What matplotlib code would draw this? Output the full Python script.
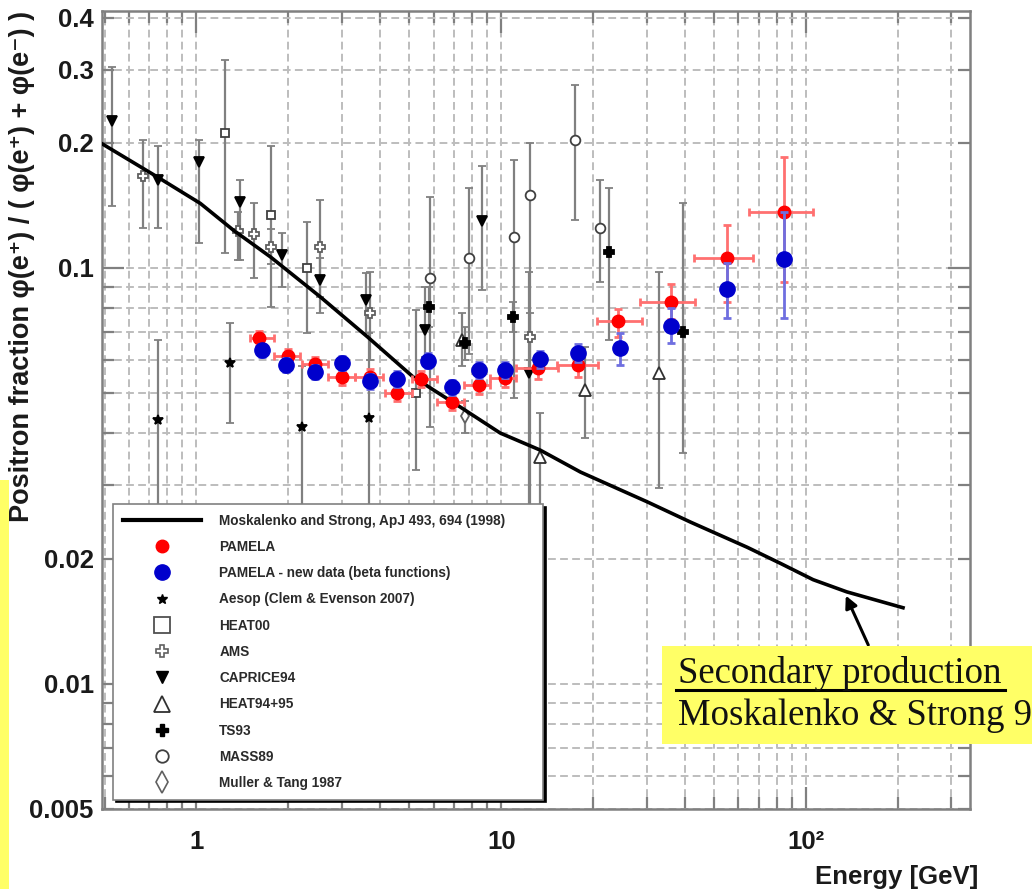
import matplotlib
matplotlib.use("Agg")
import matplotlib.pyplot as plt
import numpy as np
from matplotlib.lines import Line2D
from matplotlib.patches import Rectangle
from matplotlib.ticker import FixedLocator, FixedFormatter

plt.rcParams["font.family"] = ["Liberation Sans", "DejaVu Sans"]

# secondary production curve (Moskalenko & Strong 1998)
ms_e = [0.49, 0.745, 1.03, 1.32, 1.75, 2.55, 3.64, 5.14, 7.34, 9.92, 13.4,
        18.2, 30.1, 41.7, 64.1, 82.2, 105.5, 136, 208]
ms_f = [0.199, 0.1655, 0.143, 0.1234, 0.1063, 0.0852, 0.0683, 0.0547, 0.0463,
        0.0401, 0.0365, 0.0323, 0.0274, 0.0245, 0.0213, 0.0195, 0.0178,
        0.01664, 0.01524]

# PAMELA
pam_e = [1.60, 1.99, 2.44, 3.0, 3.70, 4.55, 5.47, 6.89, 8.43, 10.3, 13.2,
         17.8, 24.2, 36.1, 55.0, 84.9]
pam_elo = [1.50, 1.79, 2.22, 2.71, 3.32, 4.17, 5.1, 6.16, 7.53, 9.2, 11.2,
           15.2, 20.6, 28.5, 42.8, 65.2]
pam_ehi = [1.80, 2.19, 2.71, 3.32, 4.1, 5.1, 6.16, 7.53, 9.2, 11.2, 15.4,
           20.8, 28.9, 43.2, 67.1, 105.6]
pam_f = [0.0677, 0.0614, 0.0587, 0.0546, 0.0548, 0.0500, 0.0541, 0.0477,
         0.0524, 0.0545, 0.0574, 0.0585, 0.0744, 0.083, 0.1059, 0.136]
pam_flo = [0.0650, 0.0590, 0.0563, 0.0524, 0.0525, 0.0478, 0.0517, 0.0455,
           0.0498, 0.0516, 0.0540, 0.0548, 0.0684, 0.0755, 0.083, 0.0927]
pam_fhi = [0.0705, 0.0640, 0.0612, 0.0569, 0.0572, 0.0523, 0.0566, 0.0500,
           0.0551, 0.0575, 0.0610, 0.0624, 0.0796, 0.0915, 0.127, 0.1846]

# PAMELA - new data (beta functions)
new_e = [1.64, 1.97, 2.44, 3.0, 3.70, 4.55, 5.75, 6.89, 8.43, 10.3, 13.4,
         17.8, 24.5, 36.1, 55.0, 84.9]
new_f = [0.0635, 0.0585, 0.0563, 0.059, 0.0535, 0.0541, 0.0599, 0.0516,
         0.0569, 0.0569, 0.0603, 0.0626, 0.0641, 0.0725, 0.0889, 0.1049]
new_flo = [0.0612, 0.0563, 0.0541, 0.0567, 0.0513, 0.0518, 0.0574, 0.0494,
           0.0544, 0.0543, 0.0574, 0.0594, 0.0585, 0.066, 0.0757, 0.0757]
new_fhi = [0.0658, 0.0607, 0.0585, 0.0613, 0.0557, 0.0564, 0.0624, 0.0538,
           0.0594, 0.0595, 0.0632, 0.0658, 0.0697, 0.080, 0.1026, 0.1366]

# older measurements
aes_e = [0.75, 1.29, 2.22, 3.67]
aes_f = [0.0431, 0.059, 0.0415, 0.0435]
aes_lo = [0.018, 0.0424, 0.018, 0.018]
aes_hi = [0.0671, 0.0737, 0.058, 0.0697]

h00_e = [1.245, 1.75, 2.31, 5.25]
h00_f = [0.211, 0.134, 0.0998, 0.050]
h00_lo = [0.1085, 0.0807, 0.0697, 0.0327]
h00_hi = [0.316, 0.196, 0.129, 0.0793]

ams_e = [0.67, 1.37, 1.54, 1.75, 2.54, 3.70, 12.4]
ams_f = [0.166, 0.123, 0.121, 0.1125, 0.1125, 0.0778, 0.0684]
ams_lo = [0.1246, 0.1045, 0.0945, 0.102, 0.078, 0.060, 0.060]
ams_hi = [0.203, 0.136, 0.143, 0.124, 0.1457, 0.098, 0.078]

cap_e = [0.53, 0.75, 1.02, 1.39, 1.91, 2.54, 3.61, 5.63, 8.64, 12.3]
cap_f = [0.226, 0.163, 0.180, 0.144, 0.1075, 0.0936, 0.0838, 0.0709, 0.130,
         0.0558]
cap_lo = [0.141, 0.1246, 0.1146, 0.1045, 0.090, 0.0852, 0.0697, 0.061,
          0.0885, 0.02]
cap_hi = [0.304, 0.196, 0.203, 0.1627, 0.1211, 0.1057, 0.0973, 0.090, 0.1758,
          0.098]

h95_e = [7.44, 13.4, 18.85, 33.0]
h95_f = [0.0671, 0.0352, 0.0509, 0.0558]
h95_lo = [0.058, 0.02, 0.039, 0.0296]
h95_hi = [0.078, 0.0448, 0.0647, 0.098]

ts_e = [5.8, 7.6, 10.9, 22.5, 39.6]
ts_f = [0.0807, 0.066, 0.0761, 0.1094, 0.0703]
ts_lo = [0.072, 0.060, 0.070, 0.0671, 0.0359]
ts_hi = [0.090, 0.072, 0.083, 0.156, 0.143]

m89_e = [5.85, 7.81, 10.97, 12.45, 17.5, 21.1]
m89_f = [0.0945, 0.1055, 0.1189, 0.1498, 0.203, 0.1246]
m89_lo = [0.0415, 0.062, 0.0487, 0.02, 0.1304, 0.0927]
m89_hi = [0.1483, 0.1555, 0.1818, 0.1994, 0.2754, 0.1627]

mt_e = [7.6]
mt_f = [0.044]
mt_lo = [0.040]
mt_hi = [0.048]

x_major = [1, 10, 100]
x_major_labels = ["1", "10", "10²"]
x_minor = [0.5, 0.6, 0.7, 0.8, 0.9, 2, 3, 4, 5, 6, 7, 8, 9,
           20, 30, 40, 50, 60, 70, 80, 90, 200, 300]
y_major = [0.01, 0.1]
y_major_labels = ["0.01", "0.1"]
y_minor = [0.005, 0.006, 0.007, 0.008, 0.009, 0.02, 0.03, 0.04, 0.05, 0.06,
           0.07, 0.08, 0.09, 0.2, 0.3, 0.4]
y_minor_labels = ["0.005", "", "", "", "", "0.02", "", "", "", "", "", "", "",
                  "0.2", "0.3", "0.4"]

YELLOW = "#ffff66"
FRAME = "#808080"

W, H = 1032, 889
fig = plt.figure(figsize=(W / 100, H / 100), dpi=100)
ax = fig.add_axes([102 / W, 1 - 809 / H, 868 / W, 798 / H])
ax.set_xscale("log")
ax.set_yscale("log")
ax.set_xlim(0.49, 345)
ax.set_ylim(0.005, 0.415)


def errs(f, lo, hi):
    f = np.asarray(f)
    return [f - np.asarray(lo), np.asarray(hi) - f]


def old_set(e, f, lo, hi, marker, face, ms, edge="#404040"):
    ax.errorbar(e, f, yerr=errs(f, lo, hi), fmt=marker, ms=ms, mfc=face,
                mec=edge, mew=1.3, ecolor=FRAME, elinewidth=1.6, capsize=3,
                capthick=1.6, zorder=2)


old_set(aes_e, aes_f, aes_lo, aes_hi, "*", "k", 7, "k")
old_set(h00_e, h00_f, h00_lo, h00_hi, "s", "white", 6)
old_set(ams_e, ams_f, ams_lo, ams_hi, "P", "white", 7, "#606060")
old_set(cap_e, cap_f, cap_lo, cap_hi, "v", "k", 7, "k")
old_set(h95_e, h95_f, h95_lo, h95_hi, "^", "white", 8, "#303030")
old_set(ts_e, ts_f, ts_lo, ts_hi, "P", "k", 7, "k")
old_set(m89_e, m89_f, m89_lo, m89_hi, "o", "white", 7)
old_set(mt_e, mt_f, mt_lo, mt_hi, "d", "white", 7, "#606060")

ax.plot(ms_e, ms_f, color="k", lw=2.6, zorder=3)

pe = np.asarray(pam_e)
ax.errorbar(pam_e, pam_f, xerr=[pe - np.asarray(pam_elo), np.asarray(pam_ehi) - pe],
            yerr=errs(pam_f, pam_flo, pam_fhi), fmt="o", ms=9, color="#ff0000",
            ecolor="#ff7070", elinewidth=2, capsize=3, capthick=2, zorder=4)
ax.errorbar(new_e, new_f, yerr=errs(new_f, new_flo, new_fhi), fmt="o", ms=11,
            color="#0000cc", ecolor="#6f6fe0", elinewidth=2, capsize=3,
            capthick=2, zorder=5)

# axes cosmetics
ax.xaxis.set_major_locator(FixedLocator(x_major))
ax.xaxis.set_major_formatter(FixedFormatter(x_major_labels))
ax.xaxis.set_minor_locator(FixedLocator(x_minor))
ax.xaxis.set_minor_formatter(FixedFormatter([""] * len(x_minor)))
ax.yaxis.set_major_locator(FixedLocator(y_major))
ax.yaxis.set_major_formatter(FixedFormatter(y_major_labels))
ax.yaxis.set_minor_locator(FixedLocator(y_minor))
ax.yaxis.set_minor_formatter(FixedFormatter(y_minor_labels))

lab = dict(labelsize=18.5, labelcolor="#1a1a1a")
ax.tick_params(which="both", direction="in", top=True, right=True,
               color=FRAME, width=1.6)
ax.tick_params(which="major", length=16, **lab)
ax.tick_params(which="minor", length=8.5, **lab)
ax.tick_params(axis="x", which="both", pad=15)
ax.tick_params(axis="y", which="both", pad=6)
for t in ax.get_xticklabels(which="both") + ax.get_yticklabels(which="both"):
    t.set_fontweight("bold")
for s in ax.spines.values():
    s.set_color(FRAME)
    s.set_linewidth(1.8)
ax.grid(which="both", color="#bdbdbd", lw=1.4, ls=(0, (4, 2.2)))
ax.set_axisbelow(True)

fig.text(22 / W, 1 - 266 / H,
         "Positron fraction φ(e⁺) / ( φ(e⁺) + φ(e⁻) )",
         rotation=90, ha="center", va="center", fontsize=19.5,
         fontweight="bold", color="#1a1a1a")
fig.text(978 / W, 1 - 884 / H, "Energy [GeV]", ha="right", va="baseline",
         fontsize=18.5, fontweight="bold", color="#1a1a1a")

# legend
handles = [
    Line2D([], [], color="k", lw=3),
    Line2D([], [], ls="none", marker="o", ms=9, color="#ff0000"),
    Line2D([], [], ls="none", marker="o", ms=11, color="#0000cc"),
    Line2D([], [], ls="none", marker="*", ms=7, color="k"),
    Line2D([], [], ls="none", marker="s", ms=11, mfc="white", mec="#505050", mew=1.3),
    Line2D([], [], ls="none", marker="P", ms=8, mfc="white", mec="#606060", mew=1.2),
    Line2D([], [], ls="none", marker="v", ms=8, color="k"),
    Line2D([], [], ls="none", marker="^", ms=11, mfc="white", mec="#303030", mew=1.3),
    Line2D([], [], ls="none", marker="P", ms=8, color="k"),
    Line2D([], [], ls="none", marker="o", ms=9, mfc="white", mec="#404040", mew=1.3),
    Line2D([], [], ls="none", marker="d", ms=11, mfc="white", mec="#606060", mew=1.2),
]
labels = [
    "Moskalenko and Strong, ApJ 493, 694 (1998)",
    "PAMELA",
    "PAMELA - new data (beta functions)",
    "Aesop (Clem & Evenson 2007)",
    "HEAT00",
    "AMS",
    "CAPRICE94",
    "HEAT94+95",
    "TS93",
    "MASS89",
    "Muller & Tang 1987",
]
leg = ax.legend(handles, labels, loc="upper left", mode="expand",
                bbox_to_anchor=(113 / W, 1 - 795 / H, 430 / W, 291 / H),
                bbox_transform=fig.transFigure, borderaxespad=0,
                prop=dict(size=9.8, weight="bold"), labelcolor="#2a2a2a",
                frameon=True, fancybox=False, framealpha=1,
                edgecolor=FRAME, shadow={"color": "k", "alpha": 1},
                borderpad=0.7, labelspacing=0.9, handlelength=5.8,
                handletextpad=1.3)
leg.get_frame().set_linewidth(1.2)
leg.set_zorder(6)

# annotation for the secondary production curve
fig.patches.append(Rectangle((0, 0), 9 / W, (H - 480) / H, transform=fig.transFigure,
                             facecolor=YELLOW, edgecolor="none", zorder=5))
fig.patches.append(Rectangle((662 / W, 1 - 744 / H), (W - 662) / W, 98 / H,
                             transform=fig.transFigure, facecolor=YELLOW,
                             edgecolor="none", zorder=5))
fig.text(678 / W, 1 - 683 / H, "Secondary production", family="Liberation Serif",
         fontsize=26.5, va="baseline", color="#111111", zorder=6)
fig.text(678 / W, 1 - 725 / H, "Moskalenko & Strong 98", family="Liberation Serif",
         fontsize=26.5, va="baseline", color="#111111", zorder=6)
fig.lines.append(Line2D([676 / W, 1005 / W], [1 - 690 / H, 1 - 690 / H],
                        transform=fig.transFigure, color="k", lw=2.2, zorder=6))
ax.annotate("", xy=(135, 0.0163), xytext=(160, 0.0124),
            arrowprops=dict(arrowstyle="-|>", color="k", lw=2.2,
                            mutation_scale=18, shrinkA=0, shrinkB=0),
            annotation_clip=False, zorder=7)

fig.savefig("out.png", dpi=100)
